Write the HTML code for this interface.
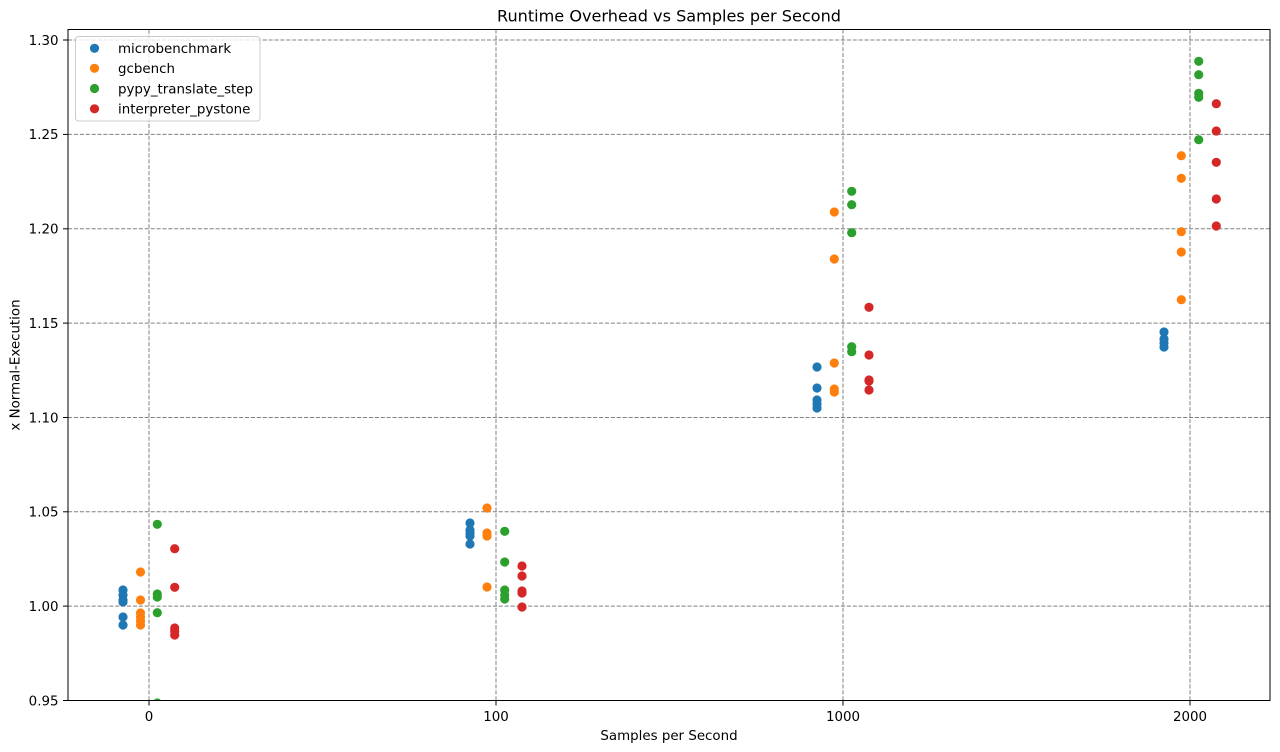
<!DOCTYPE html>
<html><head><meta charset="utf-8"><style>
html,body{margin:0;padding:0;background:#fff;}
svg{display:block;font-family:"DejaVu Sans","Liberation Sans",sans-serif;}
</style></head><body>
<svg width="1280" height="752" viewBox="0 0 1280 752" xmlns="http://www.w3.org/2000/svg">
<rect width="1280" height="752" fill="#fff"/>
<defs><clipPath id="ax"><rect x="68" y="29.5" width="1202" height="671"/></clipPath></defs>
<!-- grid -->
<g stroke="#808080" stroke-width="1" stroke-dasharray="4.1,1.8" fill="none">
<line x1="68" x2="1270" y1="40" y2="40"/>
<line x1="68" x2="1270" y1="134.4" y2="134.4"/>
<line x1="68" x2="1270" y1="228.8" y2="228.8"/>
<line x1="68" x2="1270" y1="323.1" y2="323.1"/>
<line x1="68" x2="1270" y1="417.5" y2="417.5"/>
<line x1="68" x2="1270" y1="511.8" y2="511.8"/>
<line x1="68" x2="1270" y1="606.1" y2="606.1"/>
<line x1="149" x2="149" y1="29.5" y2="700.5"/>
<line x1="496" x2="496" y1="29.5" y2="700.5"/>
<line x1="843" x2="843" y1="29.5" y2="700.5"/>
<line x1="1190" x2="1190" y1="29.5" y2="700.5"/>
</g>
<g clip-path="url(#ax)">
<g fill="#1f77b4">
<circle cx="123" cy="590" r="4.6"/><circle cx="123" cy="595" r="4.6"/><circle cx="123" cy="600" r="4.6"/><circle cx="123" cy="602" r="4.6"/><circle cx="123" cy="617" r="4.6"/><circle cx="123" cy="625" r="4.6"/>
<circle cx="470" cy="523" r="4.6"/><circle cx="470" cy="530" r="4.6"/><circle cx="470" cy="533" r="4.6"/><circle cx="470" cy="536" r="4.6"/><circle cx="470" cy="544" r="4.6"/>
<circle cx="817" cy="367" r="4.6"/><circle cx="817" cy="388" r="4.6"/><circle cx="817" cy="400" r="4.6"/><circle cx="817" cy="404" r="4.6"/><circle cx="817" cy="408" r="4.6"/>
<circle cx="1164" cy="332" r="4.6"/><circle cx="1164" cy="339" r="4.6"/><circle cx="1164" cy="343" r="4.6"/><circle cx="1164" cy="347" r="4.6"/>
</g>
<g fill="#ff7f0e">
<circle cx="140.5" cy="572" r="4.6"/><circle cx="140.5" cy="600" r="4.6"/><circle cx="140.5" cy="613" r="4.6"/><circle cx="140.5" cy="617" r="4.6"/><circle cx="140.5" cy="621" r="4.6"/><circle cx="140.5" cy="625" r="4.6"/>
<circle cx="487" cy="508" r="4.6"/><circle cx="487" cy="533" r="4.6"/><circle cx="487" cy="536" r="4.6"/><circle cx="487" cy="587" r="4.6"/>
<circle cx="834.3" cy="212" r="4.6"/><circle cx="834.3" cy="259" r="4.6"/><circle cx="834.3" cy="363" r="4.6"/><circle cx="834.3" cy="389" r="4.6"/><circle cx="834.3" cy="392" r="4.6"/>
<circle cx="1181.3" cy="155.7" r="4.6"/><circle cx="1181.3" cy="178.3" r="4.6"/><circle cx="1181.3" cy="231.7" r="4.6"/><circle cx="1181.3" cy="252" r="4.6"/><circle cx="1181.3" cy="299.7" r="4.6"/>
</g>
<g fill="#2ca02c">
<circle cx="157.3" cy="524.3" r="4.6"/><circle cx="157.3" cy="594" r="4.6"/><circle cx="157.3" cy="597" r="4.6"/><circle cx="157.3" cy="612.7" r="4.6"/><circle cx="157.3" cy="703" r="4.6"/>
<circle cx="504.7" cy="531.3" r="4.6"/><circle cx="504.7" cy="562" r="4.6"/><circle cx="504.7" cy="590" r="4.6"/><circle cx="504.7" cy="595" r="4.6"/><circle cx="504.7" cy="599" r="4.6"/>
<circle cx="851.7" cy="191.3" r="4.6"/><circle cx="851.7" cy="204.7" r="4.6"/><circle cx="851.7" cy="232.7" r="4.6"/><circle cx="851.7" cy="346.7" r="4.6"/><circle cx="851.7" cy="351.7" r="4.6"/>
<circle cx="1198.7" cy="61.3" r="4.6"/><circle cx="1198.7" cy="74.7" r="4.6"/><circle cx="1198.7" cy="93.3" r="4.6"/><circle cx="1198.7" cy="97.3" r="4.6"/><circle cx="1198.7" cy="139.7" r="4.6"/>
</g>
<g fill="#d62728">
<circle cx="174.7" cy="548.7" r="4.6"/><circle cx="174.7" cy="587.3" r="4.6"/><circle cx="174.7" cy="628" r="4.6"/><circle cx="174.7" cy="631" r="4.6"/><circle cx="174.7" cy="635" r="4.6"/>
<circle cx="522" cy="566" r="4.6"/><circle cx="522" cy="576" r="4.6"/><circle cx="522" cy="591" r="4.6"/><circle cx="522" cy="593" r="4.6"/><circle cx="522" cy="607" r="4.6"/>
<circle cx="869" cy="307.3" r="4.6"/><circle cx="869" cy="355" r="4.6"/><circle cx="869" cy="380" r="4.6"/><circle cx="869" cy="381" r="4.6"/><circle cx="869" cy="390" r="4.6"/>
<circle cx="1216.3" cy="103.7" r="4.6"/><circle cx="1216.3" cy="131" r="4.6"/><circle cx="1216.3" cy="162.3" r="4.6"/><circle cx="1216.3" cy="199" r="4.6"/><circle cx="1216.3" cy="226" r="4.6"/>
</g>
</g>
<!-- axes frame -->
<rect x="68" y="29.5" width="1202" height="671" fill="none" stroke="#000" stroke-width="1"/>
<!-- ticks -->
<g stroke="#000" stroke-width="1">
<line x1="63" x2="68" y1="40" y2="40"/><line x1="63" x2="68" y1="134.4" y2="134.4"/><line x1="63" x2="68" y1="228.8" y2="228.8"/><line x1="63" x2="68" y1="323.1" y2="323.1"/><line x1="63" x2="68" y1="417.5" y2="417.5"/><line x1="63" x2="68" y1="511.8" y2="511.8"/><line x1="63" x2="68" y1="606.1" y2="606.1"/><line x1="63" x2="68" y1="700.5" y2="700.5"/>
<line x1="149" x2="149" y1="700.5" y2="705.5"/><line x1="496" x2="496" y1="700.5" y2="705.5"/><line x1="843" x2="843" y1="700.5" y2="705.5"/><line x1="1190" x2="1190" y1="700.5" y2="705.5"/>
</g>
<g font-size="13.4" fill="#000" text-anchor="end">
<text x="58.5" y="44.8">1.30</text><text x="58.5" y="139.2">1.25</text><text x="58.5" y="233.6">1.20</text><text x="58.5" y="327.9">1.15</text><text x="58.5" y="422.3">1.10</text><text x="58.5" y="516.6">1.05</text><text x="58.5" y="610.9">1.00</text><text x="58.5" y="705.3">0.95</text>
</g>
<g font-size="13.4" fill="#000" text-anchor="middle">
<text x="149" y="721">0</text><text x="496" y="721">100</text><text x="843" y="721">1000</text><text x="1190" y="721">2000</text>
<text x="669" y="740">Samples per Second</text>
<text x="669" y="21.5" font-size="16.1">Runtime Overhead vs Samples per Second</text>
<text transform="translate(19.5,365) rotate(-90)">x Normal-Execution</text>
</g>
<!-- legend -->
<rect x="75.5" y="36.5" width="184.5" height="84.5" rx="3" ry="3" fill="#fff" fill-opacity="0.8" stroke="#cccccc" stroke-width="1"/>
<circle cx="94.5" cy="48.3" r="4.6" fill="#1f77b4"/>
<circle cx="94.5" cy="68.3" r="4.6" fill="#ff7f0e"/>
<circle cx="94.5" cy="88.5" r="4.6" fill="#2ca02c"/>
<circle cx="94.5" cy="108.8" r="4.6" fill="#d62728"/>
<g font-size="13.4" fill="#000">
<text x="118" y="53">microbenchmark</text>
<text x="118" y="73.1">gcbench</text>
<text x="118" y="93.3">pypy_translate_step</text>
<text x="118" y="113.5">interpreter_pystone</text>
</g>
</svg>
</body></html>
